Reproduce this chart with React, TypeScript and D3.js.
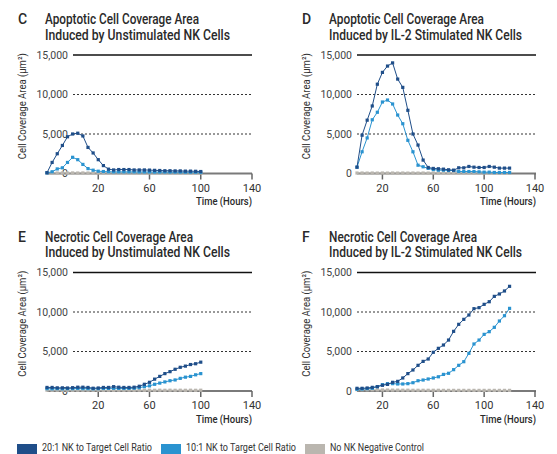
import React from 'react';
import * as d3 from 'd3';

// ---- data ----
const timeShifted = [-20,-16,-12,-8,-4,0,4,8,12,16,20,24,28,32,36,40,44,48,52,56,60,64,68,72,76,80,84,88,92,96,100];
const timeStd = [0,4,8,12,16,20,24,28,32,36,40,44,48,52,56,60,64,68,72,76,80,84,88,92,96,100,104,108,112,116,120];
const xTicks = [20, 60, 100, 140];
const yTicks = [0, 5000, 10000, 15000];

const seriesNames = ['20:1 NK to Target Cell Ratio', '10:1 NK to Target Cell Ratio', 'No NK Negative Control'];
const seriesColors = ['#1f4e89', '#2a93d0', '#bab6af'];

// C: apoptotic, unstimulated
const cDark = [100,1400,2500,3550,4650,5000,5100,4750,3300,2600,1750,1000,550,450,500,500,500,450,450,450,430,400,380,350,350,330,330,300,300,280,250];
const cLight = [80,220,580,720,1400,2050,1750,1150,620,420,290,250,220,200,200,200,200,200,190,190,190,180,180,180,170,170,170,160,160,160,150];
const cGrey = [70,70,60,70,60,70,60,70,60,70,60,70,60,70,60,70,60,70,60,70,60,70,60,70,60,70,60,70,60,70,60];
// D: apoptotic, IL-2 stimulated
const dDark = [800,4850,6750,8550,11300,12800,13600,14000,11950,10900,8000,5000,3600,1700,760,640,600,550,470,420,720,720,890,800,760,760,890,800,680,680,680];
const dLight = [800,2750,4500,6800,7750,9050,9300,8800,7400,6300,4200,2750,1050,850,650,500,420,420,380,380,250,250,250,250,210,170,170,130,130,130,130];
const dGrey = [60,60,50,60,50,60,50,60,50,60,50,60,50,60,50,60,50,60,50,60,50,60,50,60,50,60,50,60,50,60,50];
// E: necrotic, unstimulated
const eDark = [450,450,400,400,380,420,480,480,450,350,380,450,450,550,480,450,450,480,600,850,1100,1500,1850,2200,2450,2750,3000,3150,3350,3450,3650];
const eLight = [300,280,300,280,300,300,320,300,300,280,300,320,330,340,330,320,330,350,420,550,650,850,1000,1150,1300,1400,1600,1750,1850,2050,2200];
const eGrey = [100,90,100,90,100,90,100,90,100,90,100,90,100,90,100,90,100,90,100,90,100,90,100,90,100,90,100,90,100,90,100];
// F: necrotic, IL-2 stimulated
const fDark = [340,340,380,460,550,720,840,1100,1220,1650,2200,2660,3250,3750,4050,4900,5400,5820,6450,7550,8440,9070,9620,10420,10550,10970,11300,11980,12280,12660,13250];
const fLight = [210,250,300,340,550,800,930,930,890,890,930,1050,1300,1390,1520,1650,1800,2100,2240,2700,3250,3710,4770,5950,6450,7170,7510,8060,8860,9530,10460];
const fGrey = [170,160,150,150,140,130,120,110,110,100,100,90,90,90,90,90,90,80,80,80,80,80,80,80,80,80,80,80,80,80,80];

const FONT = 'Roboto, "Noto Sans", sans-serif';

type PanelProps = {
  ox: number; oy: number; letter: string;
  title1: string; title2: string; t1Len: number; t2Len: number;
  times: number[]; xStart: number; xRangeStart: number; xRangeEnd: number;
  series: number[][];
};

function Panel(p: PanelProps) {
  const x = d3.scaleLinear().domain([p.xStart, 140]).range([p.xRangeStart, p.xRangeEnd]);
  const y = d3.scaleLinear().domain([0, 15000]).range([173.5, 55]);
  const gridL = 73, gridR = 252;
  const order = [2, 1, 0];
  return (
    <g transform={`translate(${p.ox},${p.oy})`} fontFamily={FONT}>
      <text x={18} y={24} fontSize={14} fontWeight={500} fill="#2a2a2a">{p.letter}</text>
      <text x={45} y={24} fontSize={14} fontWeight={500} fill="#2a2a2a" textLength={p.t1Len} lengthAdjust="spacingAndGlyphs">{p.title1}</text>
      <text x={45} y={39.5} fontSize={14} fontWeight={500} fill="#2a2a2a" textLength={p.t2Len} lengthAdjust="spacingAndGlyphs">{p.title2}</text>
      <text transform={`translate(25.5,${(y(0) + y(15000)) / 2 - 8}) rotate(-90)`} textAnchor="middle" fontSize={11} fill="#333" textLength={106} lengthAdjust="spacingAndGlyphs">Cell Coverage Area (µm²)</text>
      {yTicks.map((v) => (
        <g key={v}>
          {v > 0 && (
            <line x1={gridL} x2={gridR} y1={y(v)} y2={y(v)}
              stroke={v === 15000 ? '#111' : '#333'} strokeWidth={v === 15000 ? 1.3 : 1}
              strokeDasharray={v === 15000 ? undefined : '2,2'} />
          )}
          <text x={68} y={y(v)} dy="0.35em" textAnchor="end" fontSize={10.5} fill="#444">{d3.format(',')(v)}</text>
        </g>
      ))}
      <line x1={p.xRangeStart} x2={gridR} y1={y(0)} y2={y(0)} stroke="#7a7a7a" strokeWidth={2} />
      {xTicks.map((t) => (
        <g key={t}>
          <line x1={x(t)} x2={x(t)} y1={y(0)} y2={y(0) + 6} stroke="#666" strokeWidth={1.5} />
          <text x={x(t)} y={191.5} textAnchor="middle" fontSize={11} fill="#333">{t}</text>
        </g>
      ))}
      <text x={252} y={205} textAnchor="end" fontSize={11} fontWeight={500} fill="#2a2a2a" textLength={56} lengthAdjust="spacingAndGlyphs">Time (Hours)</text>
      {order.map((si) => {
        const vals = p.series[si];
        const line = d3.line<number>().x((_, i) => x(p.times[i])).y((v) => y(v));
        return (
          <g key={si}>
            <path d={line(vals) || ''} fill="none" stroke={seriesColors[si]} strokeWidth={1} />
            {vals.map((v, i) => (
              <rect key={i} x={x(p.times[i]) - 1.6} y={y(v) - 1.6} width={3.2} height={3.2} fill={seriesColors[si]} />
            ))}
          </g>
        );
      })}
    </g>
  );
}

export default function App() {
  const legendX = [17, 161, 305];
  const legendLen = [110, 110, 94];
  return (
    <svg width={557} height={454} style={{ position: 'absolute', left: 0, top: 0, background: '#fff' }}>
      <Panel ox={0} oy={0} letter="C" title1="Apoptotic Cell Coverage Area" title2="Induced by Unstimulated NK Cells"
        t1Len={154} t2Len={185} times={timeShifted} xStart={-20} xRangeStart={47} xRangeEnd={252}
        series={[cDark, cLight, cGrey]} />
      <Panel ox={284} oy={0} letter="D" title1="Apoptotic Cell Coverage Area" title2="Induced by IL-2 Stimulated NK Cells"
        t1Len={155} t2Len={193} times={timeStd} xStart={0} xRangeStart={73} xRangeEnd={251}
        series={[dDark, dLight, dGrey]} />
      <Panel ox={0} oy={217.5} letter="E" title1="Necrotic Cell Coverage Area" title2="Induced by Unstimulated NK Cells"
        t1Len={148} t2Len={185} times={timeShifted} xStart={-20} xRangeStart={47} xRangeEnd={252}
        series={[eDark, eLight, eGrey]} />
      <Panel ox={284} oy={217.5} letter="F" title1="Necrotic Cell Coverage Area" title2="Induced by IL-2 Stimulated NK Cells"
        t1Len={148} t2Len={193} times={timeStd} xStart={0} xRangeStart={73} xRangeEnd={251}
        series={[fDark, fLight, fGrey]} />
      <g fontFamily={FONT}>
        {seriesNames.map((n, i) => (
          <g key={n}>
            <rect x={legendX[i]} y={444} width={20} height={10} fill={seriesColors[i]} />
            <text x={legendX[i] + 25} y={451} fontSize={10} fill="#333" textLength={legendLen[i]} lengthAdjust="spacingAndGlyphs">{n}</text>
          </g>
        ))}
      </g>
    </svg>
  );
}
